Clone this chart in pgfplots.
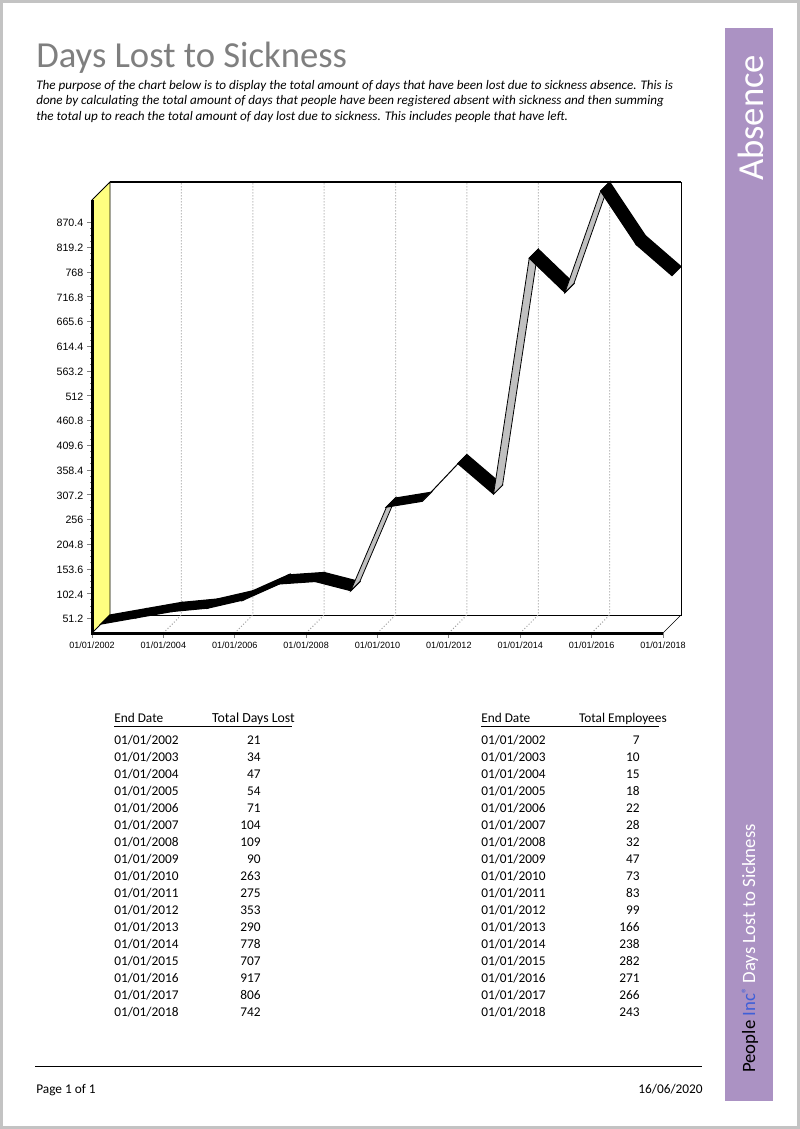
\documentclass[border=0pt]{standalone}
\usepackage{pgfplots}
\pgfplotsset{compat=1.18}
\usepackage{fontspec}
\setmainfont{Carlito}
\newfontfamily\arialfont{Liberation Sans}
\definecolor{barpurple}{HTML}{AB92C3}
\definecolor{wallyellow}{HTML}{FFFF80}
\definecolor{ribbongray}{HTML}{C0C0C0}
\definecolor{titlegray}{HTML}{7F7F7F}
\definecolor{incblue}{HTML}{3F5FD8}
\definecolor{pageedge}{HTML}{C3C3C3}
\newcommand{\txt}[1]{\fontsize{#1}{#1}\selectfont}
\begin{document}
\begin{tikzpicture}[x=0.75pt,y=-0.75pt]
% page
\fill[pageedge] (0,0) rectangle (800,1129);
\fill[white] (3,3) rectangle (797,1126);
\fill[barpurple] (725,28) rectangle (773,1101);
\node[anchor=west,inner sep=0,text=titlegray] at (36,58) {\txt{27.5pt}Days Lost to Sickness};
\node[anchor=west,inner sep=0] at (36,86.5) {\txt{9.83pt}\itshape The purpose of the chart below is to display the total amount of days that have been lost due to sickness absence. This is};
\node[anchor=west,inner sep=0] at (36,101.5) {\txt{9.83pt}\itshape done by calculating the total amount of days that people have been registered absent with sickness and then summing};
\node[anchor=west,inner sep=0] at (36,117) {\txt{9.83pt}\itshape the total up to reach the total amount of day lost due to sickness. This includes people that have left.};
\node[anchor=west,inner sep=0,rotate=90,text=white] at (750.5,181) {\txt{27.5pt}Absence};
\node[anchor=west,inner sep=0,rotate=90] at (750,1073) {\txt{14.1pt}People {\color{incblue}Inc\raisebox{0.55ex}{\txt{9pt}®}} {\color{white}Days Lost to Sickness}};

\begin{axis}[
    at={(69pt,-474.75pt)}, anchor=south west,
    scale only axis,
    width=441.75pt, height=338.25pt,
    xmin=2002, xmax=2018.5044,
    ymin=21, ymax=954.25,
    clip=false,
    axis line style={draw=none},
    axis x line*=bottom, axis y line*=left,
    tick align=outside,
    xtick={2002,2004,...,2018},
    xticklabels={01/01/2002,01/01/2004,01/01/2006,01/01/2008,01/01/2010,01/01/2012,01/01/2014,01/01/2016,01/01/2018},
    minor xtick={2003,2005,...,2017},
    ytick={51.2,102.4,153.6,204.8,256,307.2,358.4,409.6,460.8,512,563.2,614.4,665.6,716.8,768,819.2,870.4},
    minor y tick num=3,
    scaled ticks=false,
    major tick length=3.5pt, minor tick length=1.5pt,
    tick style={draw=gray,line width=0.6pt},
    x tick label style={font=\arialfont\txt{6.8pt},yshift=0pt},
    y tick label style={font=\arialfont\txt{8pt},xshift=0.5pt,yshift=-0.5pt},
    /pgf/number format/assume math mode=true,
    /pgf/number format/fixed,
    /pgf/number format/precision=1,
]
% back wall and floor edge
\addplot[black,line width=0.6pt] coordinates {(2002.5044,58.25)(2018.5044,58.25)(2018.5044,954.25)};
\addplot[black,line width=0.9pt] coordinates {(2018.5044,954.25)(2002.5044,954.25)};
\addplot[black,line width=0.5pt] coordinates {(2018,21)(2018.5044,58.25)};
% grid lines, across the floor and up the wall
\foreach \yr in {2004,2006,...,2016}{
  \edef\tmp{\noexpand\addplot[gray!75,line width=0.75pt,dash pattern=on 0.75pt off 1.5pt] coordinates {(\yr,21)(\yr.5044,58.25)(\yr.5044,954.25)};}
  \tmp
}
% left wall
\addplot[fill=wallyellow,draw=black,line width=0.6pt] coordinates {(2002,21)(2002.5044,58.25)(2002.5044,954.25)(2002,917)} --cycle;
% ribbon: Total Days Lost, front edge then back edge of each step
\addplot[fill=black,draw=black,line width=0.9pt] coordinates {(2002.2522,39.625)(2003.2522,52.625)(2003.5044,71.25)(2002.5044,58.25)} --cycle;
\addplot[fill=black,draw=black,line width=0.9pt] coordinates {(2003.2522,52.625)(2004.2522,65.625)(2004.5044,84.25)(2003.5044,71.25)} --cycle;
\addplot[fill=black,draw=black,line width=0.9pt] coordinates {(2004.2522,65.625)(2005.2522,72.625)(2005.5044,91.25)(2004.5044,84.25)} --cycle;
\addplot[fill=black,draw=black,line width=0.9pt] coordinates {(2005.2522,72.625)(2006.2522,89.625)(2006.5044,108.25)(2005.5044,91.25)} --cycle;
\addplot[fill=black,draw=black,line width=0.9pt] coordinates {(2006.2522,89.625)(2007.2522,122.625)(2007.5044,141.25)(2006.5044,108.25)} --cycle;
\addplot[fill=black,draw=black,line width=0.9pt] coordinates {(2007.2522,122.625)(2008.2522,127.625)(2008.5044,146.25)(2007.5044,141.25)} --cycle;
\addplot[fill=black,draw=black,line width=0.9pt] coordinates {(2008.2522,127.625)(2009.2522,108.625)(2009.5044,127.25)(2008.5044,146.25)} --cycle;
\addplot[fill=ribbongray,draw=black,line width=0.6pt] coordinates {(2009.2522,108.625)(2010.2522,281.625)(2010.5044,300.25)(2009.5044,127.25)} --cycle;
\addplot[fill=black,draw=black,line width=0.9pt] coordinates {(2010.2522,281.625)(2011.2522,293.625)(2011.5044,312.25)(2010.5044,300.25)} --cycle;
\addplot[fill=white,draw=black,line width=0.5pt] coordinates {(2011.2522,293.625)(2012.2522,371.625)(2012.5044,390.25)(2011.5044,312.25)} --cycle;
\addplot[fill=black,draw=black,line width=0.9pt] coordinates {(2012.2522,371.625)(2013.2522,308.625)(2013.5044,327.25)(2012.5044,390.25)} --cycle;
\addplot[fill=ribbongray,draw=black,line width=0.6pt] coordinates {(2013.2522,308.625)(2014.2522,796.625)(2014.5044,815.25)(2013.5044,327.25)} --cycle;
\addplot[fill=black,draw=black,line width=0.9pt] coordinates {(2014.2522,796.625)(2015.2522,725.625)(2015.5044,744.25)(2014.5044,815.25)} --cycle;
\addplot[fill=ribbongray,draw=black,line width=0.6pt] coordinates {(2015.2522,725.625)(2016.2522,935.625)(2016.5044,954.25)(2015.5044,744.25)} --cycle;
\addplot[fill=black,draw=black,line width=0.9pt] coordinates {(2016.2522,935.625)(2017.2522,824.625)(2017.5044,843.25)(2016.5044,954.25)} --cycle;
\addplot[fill=black,draw=black,line width=0.9pt] coordinates {(2017.2522,824.625)(2018.2522,760.625)(2018.5044,779.25)(2017.5044,843.25)} --cycle;
% heavy front axes
\addplot[black,line width=2.25pt] coordinates {(2002,917)(2002,21)(2018,21)};
\end{axis}

% tables under the chart
\node[anchor=base west,inner sep=0] at (114,722) {\txt{10pt}End Date};
\node[anchor=base east,inner sep=0] at (295,722) {\txt{10.35pt}Total Days Lost};
\draw[line width=0.75pt] (114,726) -- (292,726);
\node[anchor=base west,inner sep=0] at (481,722) {\txt{10pt}End Date};
\node[anchor=base east,inner sep=0] at (667,722) {\txt{10pt}Total Employees};
\draw[line width=0.75pt] (481,726) -- (659,726);
\foreach \row/\yr/\days/\staff in {0/2002/21/7,1/2003/34/10,2/2004/47/15,3/2005/54/18,4/2006/71/22,5/2007/104/28,6/2008/109/32,7/2009/90/47,8/2010/263/73,9/2011/275/83,10/2012/353/99,11/2013/290/166,12/2014/778/238,13/2015/707/282,14/2016/917/271,15/2017/806/266,16/2018/742/243}{
  \node[anchor=base west,inner sep=0] at (114,744+17*\row) {\txt{10pt}01/01/\yr};
  \node[anchor=base east,inner sep=0] at (261,744+17*\row) {\txt{10pt}\days};
  \node[anchor=base west,inner sep=0] at (481,744+17*\row) {\txt{10pt}01/01/\yr};
  \node[anchor=base east,inner sep=0] at (640,744+17*\row) {\txt{10pt}\staff};
}
% footer
\draw[line width=0.75pt] (35,1066) -- (702,1066);
\node[anchor=base west,inner sep=0] at (36,1093) {\txt{10pt}Page 1 of 1};
\node[anchor=base east,inner sep=0] at (703,1093) {\txt{10pt}16/06/2020};
\end{tikzpicture}
\end{document}
